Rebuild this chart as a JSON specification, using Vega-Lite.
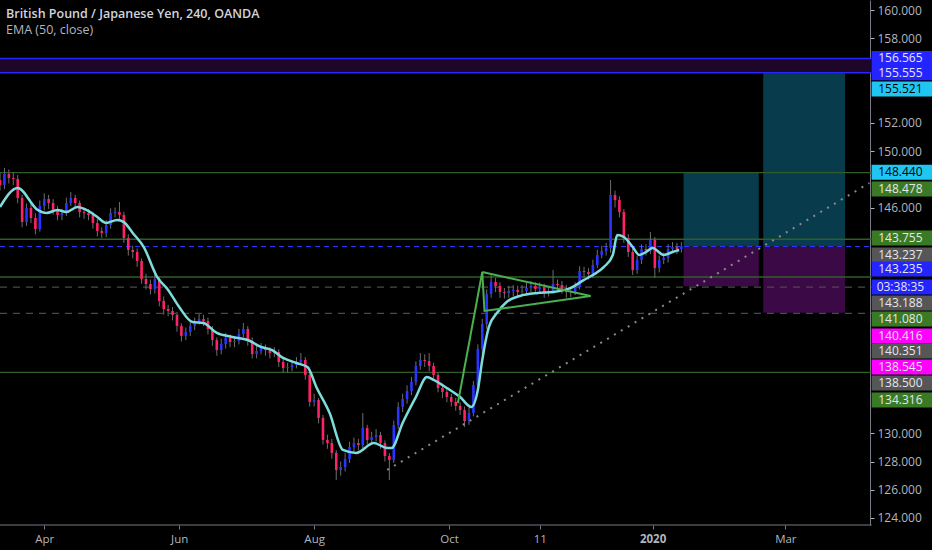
{
  "$schema": "https://vega.github.io/schema/vega-lite/v6.json",
  "width": 932,
  "height": 525,
  "autosize": {"type": "none"},
  "padding": {"left": 0, "top": 0, "right": 0, "bottom": 25},
  "background": "#000000",
  "config": {"view": {"stroke": null}, "font": "Open Sans"},
  "resolve": {"scale": {"color": "independent", "strokeDash": "independent", "size": "independent"}},
  "title": {
    "text": "British Pound / Japanese Yen, 240, OANDA",
    "subtitle": "EMA (50, close)",
    "anchor": "start",
    "frame": "group",
    "offset": -36,
    "dx": 6,
    "font": "Open Sans",
    "fontSize": 12.5,
    "fontWeight": 600,
    "color": "#d1d4dc",
    "subtitleFont": "Open Sans",
    "subtitleFontSize": 12.5,
    "subtitleColor": "#b2b5be",
    "subtitlePadding": 3
  },
  "datasets": {
    "candles": [
      {"t":"2019-03-12","o":147.95,"h":148.45,"l":147.20,"c":147.60},
      {"t":"2019-03-14","o":147.60,"h":148.80,"l":147.30,"c":148.38},
      {"t":"2019-03-16","o":148.38,"h":148.70,"l":147.70,"c":148.09},
      {"t":"2019-03-18","o":148.09,"h":148.50,"l":147.60,"c":148.02},
      {"t":"2019-03-20","o":148.02,"h":148.30,"l":146.30,"c":146.68},
      {"t":"2019-03-22","o":146.68,"h":146.90,"l":144.60,"c":144.98},
      {"t":"2019-03-24","o":144.98,"h":146.30,"l":144.70,"c":145.97},
      {"t":"2019-03-26","o":145.97,"h":146.30,"l":144.90,"c":145.26},
      {"t":"2019-03-28","o":145.26,"h":145.60,"l":144.10,"c":144.48},
      {"t":"2019-03-30","o":144.48,"h":146.50,"l":144.30,"c":146.11},
      {"t":"2019-04-01","o":146.11,"h":147.00,"l":145.80,"c":146.61},
      {"t":"2019-04-03","o":146.61,"h":146.90,"l":145.90,"c":146.32},
      {"t":"2019-04-05","o":146.32,"h":146.60,"l":145.50,"c":145.83},
      {"t":"2019-04-07","o":145.83,"h":146.10,"l":145.10,"c":145.47},
      {"t":"2019-04-09","o":145.47,"h":145.90,"l":145.10,"c":145.61},
      {"t":"2019-04-11","o":145.61,"h":146.70,"l":145.40,"c":146.32},
      {"t":"2019-04-13","o":146.32,"h":147.10,"l":146.10,"c":146.68},
      {"t":"2019-04-15","o":146.68,"h":146.90,"l":146.00,"c":146.32},
      {"t":"2019-04-17","o":146.32,"h":146.50,"l":145.30,"c":145.68},
      {"t":"2019-04-19","o":145.68,"h":146.00,"l":145.20,"c":145.60},
      {"t":"2019-04-21","o":145.60,"h":145.90,"l":145.10,"c":145.47},
      {"t":"2019-04-23","o":145.47,"h":145.70,"l":144.50,"c":144.90},
      {"t":"2019-04-25","o":144.90,"h":145.20,"l":143.95,"c":144.34},
      {"t":"2019-04-27","o":144.34,"h":144.60,"l":143.85,"c":144.20},
      {"t":"2019-04-29","o":144.20,"h":145.10,"l":143.90,"c":144.76},
      {"t":"2019-05-01","o":144.76,"h":145.95,"l":144.50,"c":145.61},
      {"t":"2019-05-03","o":145.61,"h":146.00,"l":145.30,"c":145.68},
      {"t":"2019-05-05","o":145.68,"h":146.39,"l":145.10,"c":145.47},
      {"t":"2019-05-07","o":145.47,"h":145.70,"l":143.50,"c":143.84},
      {"t":"2019-05-09","o":143.84,"h":144.10,"l":142.60,"c":142.99},
      {"t":"2019-05-11","o":142.99,"h":143.30,"l":142.40,"c":142.85},
      {"t":"2019-05-13","o":142.85,"h":143.10,"l":141.80,"c":142.21},
      {"t":"2019-05-15","o":142.21,"h":142.40,"l":140.60,"c":140.94},
      {"t":"2019-05-17","o":140.94,"h":141.30,"l":140.20,"c":140.58},
      {"t":"2019-05-19","o":140.58,"h":140.90,"l":139.85,"c":140.22},
      {"t":"2019-05-21","o":140.22,"h":141.57,"l":139.90,"c":140.94},
      {"t":"2019-05-23","o":140.94,"h":141.10,"l":139.00,"c":139.38},
      {"t":"2019-05-25","o":139.38,"h":139.70,"l":138.40,"c":138.81},
      {"t":"2019-05-27","o":138.81,"h":139.10,"l":138.30,"c":138.67},
      {"t":"2019-05-29","o":138.67,"h":138.95,"l":138.00,"c":138.39},
      {"t":"2019-05-31","o":138.39,"h":138.60,"l":137.20,"c":137.61},
      {"t":"2019-06-02","o":137.61,"h":137.80,"l":136.50,"c":136.90},
      {"t":"2019-06-04","o":136.90,"h":137.50,"l":136.60,"c":137.18},
      {"t":"2019-06-06","o":137.18,"h":137.90,"l":136.90,"c":137.61},
      {"t":"2019-06-08","o":137.61,"h":138.20,"l":137.30,"c":137.89},
      {"t":"2019-06-10","o":137.89,"h":138.45,"l":137.70,"c":138.10},
      {"t":"2019-06-12","o":138.10,"h":138.40,"l":137.60,"c":137.96},
      {"t":"2019-06-14","o":137.96,"h":138.20,"l":137.00,"c":137.39},
      {"t":"2019-06-16","o":137.39,"h":137.60,"l":136.20,"c":136.61},
      {"t":"2019-06-18","o":136.61,"h":136.80,"l":135.50,"c":135.90},
      {"t":"2019-06-20","o":135.90,"h":136.70,"l":135.60,"c":136.33},
      {"t":"2019-06-22","o":136.33,"h":137.10,"l":136.00,"c":136.75},
      {"t":"2019-06-24","o":136.75,"h":137.00,"l":136.10,"c":136.47},
      {"t":"2019-06-26","o":136.47,"h":136.90,"l":136.10,"c":136.54},
      {"t":"2019-06-28","o":136.54,"h":137.40,"l":136.30,"c":137.04},
      {"t":"2019-06-30","o":137.04,"h":137.82,"l":136.80,"c":137.39},
      {"t":"2019-07-02","o":137.39,"h":137.60,"l":136.20,"c":136.54},
      {"t":"2019-07-04","o":136.54,"h":136.80,"l":135.30,"c":135.62},
      {"t":"2019-07-06","o":135.62,"h":136.20,"l":135.30,"c":135.83},
      {"t":"2019-07-08","o":135.83,"h":136.40,"l":135.60,"c":136.05},
      {"t":"2019-07-10","o":136.05,"h":136.30,"l":135.50,"c":135.90},
      {"t":"2019-07-12","o":135.90,"h":136.10,"l":135.30,"c":135.69},
      {"t":"2019-07-14","o":135.69,"h":136.10,"l":135.40,"c":135.76},
      {"t":"2019-07-16","o":135.76,"h":135.95,"l":134.70,"c":135.05},
      {"t":"2019-07-18","o":135.05,"h":135.30,"l":134.30,"c":134.63},
      {"t":"2019-07-20","o":134.63,"h":135.00,"l":134.30,"c":134.70},
      {"t":"2019-07-22","o":134.70,"h":135.20,"l":134.40,"c":134.84},
      {"t":"2019-07-24","o":134.84,"h":135.40,"l":134.60,"c":135.05},
      {"t":"2019-07-26","o":135.05,"h":135.69,"l":134.80,"c":135.20},
      {"t":"2019-07-28","o":135.20,"h":135.40,"l":133.80,"c":134.13},
      {"t":"2019-07-30","o":134.13,"h":134.30,"l":131.90,"c":132.22},
      {"t":"2019-08-01","o":132.22,"h":132.80,"l":131.90,"c":132.36},
      {"t":"2019-08-03","o":132.36,"h":132.50,"l":130.70,"c":131.09},
      {"t":"2019-08-05","o":131.09,"h":131.30,"l":129.20,"c":129.53},
      {"t":"2019-08-07","o":129.53,"h":129.90,"l":128.90,"c":129.31},
      {"t":"2019-08-09","o":129.31,"h":129.60,"l":128.20,"c":128.61},
      {"t":"2019-08-11","o":128.61,"h":128.80,"l":126.69,"c":127.40},
      {"t":"2019-08-13","o":127.40,"h":128.00,"l":127.00,"c":127.61},
      {"t":"2019-08-15","o":127.61,"h":128.60,"l":127.30,"c":128.18},
      {"t":"2019-08-17","o":128.18,"h":129.40,"l":127.90,"c":129.03},
      {"t":"2019-08-19","o":129.03,"h":129.70,"l":128.70,"c":129.31},
      {"t":"2019-08-21","o":129.31,"h":129.60,"l":128.80,"c":129.17},
      {"t":"2019-08-23","o":129.17,"h":131.43,"l":128.90,"c":130.38},
      {"t":"2019-08-25","o":130.38,"h":130.60,"l":129.20,"c":129.53},
      {"t":"2019-08-27","o":129.53,"h":130.10,"l":129.20,"c":129.74},
      {"t":"2019-08-29","o":129.74,"h":130.30,"l":129.40,"c":129.88},
      {"t":"2019-08-31","o":129.88,"h":130.10,"l":128.90,"c":129.31},
      {"t":"2019-09-02","o":129.31,"h":129.50,"l":128.00,"c":128.39},
      {"t":"2019-09-04","o":128.39,"h":128.60,"l":126.69,"c":128.11},
      {"t":"2019-09-06","o":128.11,"h":130.90,"l":127.90,"c":130.59},
      {"t":"2019-09-08","o":130.59,"h":132.20,"l":130.30,"c":131.87},
      {"t":"2019-09-10","o":131.87,"h":132.80,"l":131.50,"c":132.43},
      {"t":"2019-09-12","o":132.43,"h":133.40,"l":132.10,"c":133.00},
      {"t":"2019-09-14","o":133.00,"h":134.00,"l":132.70,"c":133.64},
      {"t":"2019-09-16","o":133.64,"h":135.10,"l":133.40,"c":134.77},
      {"t":"2019-09-18","o":134.77,"h":135.69,"l":134.50,"c":135.20},
      {"t":"2019-09-20","o":135.20,"h":135.60,"l":134.70,"c":135.12},
      {"t":"2019-09-22","o":135.12,"h":135.69,"l":134.40,"c":134.77},
      {"t":"2019-09-24","o":134.77,"h":135.00,"l":133.80,"c":134.13},
      {"t":"2019-09-26","o":134.13,"h":134.30,"l":132.90,"c":133.21},
      {"t":"2019-09-28","o":133.21,"h":133.50,"l":132.50,"c":132.93},
      {"t":"2019-09-30","o":132.93,"h":133.20,"l":132.20,"c":132.57},
      {"t":"2019-10-02","o":132.57,"h":132.80,"l":131.90,"c":132.22},
      {"t":"2019-10-04","o":132.22,"h":132.50,"l":131.60,"c":131.94},
      {"t":"2019-10-06","o":131.94,"h":132.20,"l":131.30,"c":131.65},
      {"t":"2019-10-08","o":131.65,"h":131.90,"l":130.45,"c":130.87},
      {"t":"2019-10-10","o":130.87,"h":131.80,"l":130.60,"c":131.44},
      {"t":"2019-10-12","o":131.44,"h":133.70,"l":131.20,"c":133.42},
      {"t":"2019-10-14","o":133.42,"h":136.30,"l":133.10,"c":135.98},
      {"t":"2019-10-16","o":135.98,"h":138.10,"l":135.60,"c":137.75},
      {"t":"2019-10-18","o":137.75,"h":140.20,"l":137.40,"c":139.87},
      {"t":"2019-10-20","o":139.87,"h":141.22,"l":139.60,"c":140.72},
      {"t":"2019-10-22","o":140.72,"h":141.00,"l":140.00,"c":140.44},
      {"t":"2019-10-24","o":140.44,"h":140.70,"l":139.60,"c":140.01},
      {"t":"2019-10-26","o":140.01,"h":140.30,"l":139.55,"c":139.94},
      {"t":"2019-10-28","o":139.94,"h":140.45,"l":139.60,"c":140.09},
      {"t":"2019-10-30","o":140.09,"h":140.50,"l":139.70,"c":140.16},
      {"t":"2019-11-01","o":140.16,"h":140.45,"l":139.65,"c":140.01},
      {"t":"2019-11-03","o":140.01,"h":140.50,"l":139.70,"c":140.09},
      {"t":"2019-11-05","o":140.09,"h":140.65,"l":139.80,"c":140.30},
      {"t":"2019-11-07","o":140.30,"h":140.80,"l":140.00,"c":140.44},
      {"t":"2019-11-09","o":140.44,"h":140.70,"l":139.90,"c":140.23},
      {"t":"2019-11-11","o":140.23,"h":140.70,"l":139.90,"c":140.37},
      {"t":"2019-11-13","o":140.37,"h":140.60,"l":139.60,"c":140.01},
      {"t":"2019-11-15","o":140.01,"h":140.45,"l":139.70,"c":140.09},
      {"t":"2019-11-17","o":140.09,"h":141.57,"l":139.90,"c":140.58},
      {"t":"2019-11-19","o":140.58,"h":140.90,"l":140.10,"c":140.51},
      {"t":"2019-11-21","o":140.51,"h":140.80,"l":139.90,"c":140.23},
      {"t":"2019-11-23","o":140.23,"h":140.50,"l":139.60,"c":140.01},
      {"t":"2019-11-25","o":140.01,"h":140.40,"l":139.65,"c":140.05},
      {"t":"2019-11-27","o":140.05,"h":140.70,"l":139.80,"c":140.37},
      {"t":"2019-11-29","o":140.37,"h":141.85,"l":140.20,"c":141.50},
      {"t":"2019-12-01","o":141.50,"h":141.80,"l":141.00,"c":141.43},
      {"t":"2019-12-03","o":141.43,"h":141.70,"l":140.90,"c":141.29},
      {"t":"2019-12-05","o":141.29,"h":142.30,"l":141.00,"c":141.93},
      {"t":"2019-12-07","o":141.93,"h":143.00,"l":141.70,"c":142.64},
      {"t":"2019-12-09","o":142.64,"h":143.30,"l":142.40,"c":142.92},
      {"t":"2019-12-11","o":142.92,"h":143.50,"l":142.60,"c":143.13},
      {"t":"2019-12-13","o":143.13,"h":147.95,"l":142.80,"c":146.89},
      {"t":"2019-12-15","o":146.89,"h":147.20,"l":146.00,"c":146.53},
      {"t":"2019-12-17","o":146.53,"h":146.80,"l":145.30,"c":145.68},
      {"t":"2019-12-19","o":145.68,"h":145.90,"l":143.50,"c":143.84},
      {"t":"2019-12-21","o":143.84,"h":144.10,"l":142.50,"c":142.85},
      {"t":"2019-12-23","o":142.85,"h":143.10,"l":141.22,"c":141.57},
      {"t":"2019-12-25","o":141.57,"h":142.60,"l":141.30,"c":142.28},
      {"t":"2019-12-27","o":142.28,"h":143.40,"l":142.00,"c":143.06},
      {"t":"2019-12-29","o":143.06,"h":143.40,"l":142.60,"c":142.95},
      {"t":"2019-12-31","o":142.95,"h":144.27,"l":142.70,"c":143.70},
      {"t":"2020-01-02","o":143.70,"h":143.90,"l":141.01,"c":141.72},
      {"t":"2020-01-04","o":141.72,"h":142.60,"l":141.40,"c":142.28},
      {"t":"2020-01-06","o":142.28,"h":142.80,"l":142.00,"c":142.42},
      {"t":"2020-01-08","o":142.42,"h":143.40,"l":142.10,"c":143.06},
      {"t":"2020-01-10","o":143.06,"h":143.55,"l":142.80,"c":143.20},
      {"t":"2020-01-12","o":143.20,"h":143.50,"l":142.70,"c":143.06},
      {"t":"2020-01-14","o":143.06,"h":143.55,"l":142.80,"c":143.24}
    ],
    "ema": [
      {"t":"2019-03-12","v":146.04},{"t":"2019-03-20","v":147.39},{"t":"2019-03-29","v":145.83},
      {"t":"2019-04-02","v":145.61},{"t":"2019-04-07","v":145.83},{"t":"2019-04-11","v":145.68},
      {"t":"2019-04-16","v":146.04},{"t":"2019-04-20","v":145.83},{"t":"2019-04-25","v":145.33},
      {"t":"2019-04-29","v":144.91},{"t":"2019-05-04","v":145.12},{"t":"2019-05-07","v":144.97},
      {"t":"2019-05-11","v":144.20},{"t":"2019-05-16","v":143.20},{"t":"2019-05-22","v":141.08},
      {"t":"2019-05-27","v":140.16},{"t":"2019-06-01","v":138.95},{"t":"2019-06-07","v":137.89},
      {"t":"2019-06-12","v":137.82},{"t":"2019-06-18","v":137.11},{"t":"2019-06-25","v":136.83},
      {"t":"2019-07-02","v":136.61},{"t":"2019-07-08","v":136.12},{"t":"2019-07-13","v":135.90},
      {"t":"2019-07-18","v":135.34},{"t":"2019-07-24","v":134.98},{"t":"2019-07-29","v":134.70},
      {"t":"2019-08-02","v":133.28},{"t":"2019-08-08","v":131.44},{"t":"2019-08-14","v":128.82},
      {"t":"2019-08-20","v":128.61},{"t":"2019-08-28","v":129.31},{"t":"2019-09-03","v":128.96},
      {"t":"2019-09-05","v":128.96},{"t":"2019-09-10","v":130.73},{"t":"2019-09-16","v":132.57},
      {"t":"2019-09-21","v":133.99},{"t":"2019-09-24","v":133.78},{"t":"2019-09-30","v":133.21},
      {"t":"2019-10-06","v":132.57},{"t":"2019-10-11","v":131.87},{"t":"2019-10-14","v":133.07},
      {"t":"2019-10-16","v":135.20},{"t":"2019-10-19","v":137.54},{"t":"2019-10-23","v":138.60},
      {"t":"2019-10-27","v":139.31},{"t":"2019-11-02","v":139.73},{"t":"2019-11-10","v":139.94},
      {"t":"2019-11-17","v":140.01},{"t":"2019-11-25","v":140.30},{"t":"2019-12-01","v":140.87},
      {"t":"2019-12-05","v":141.22},{"t":"2019-12-10","v":141.79},{"t":"2019-12-14","v":142.64},
      {"t":"2019-12-16","v":144.05},{"t":"2019-12-19","v":143.91},{"t":"2019-12-23","v":143.20},
      {"t":"2019-12-26","v":142.64},{"t":"2019-12-29","v":142.85},{"t":"2020-01-01","v":143.13},
      {"t":"2020-01-06","v":142.64},{"t":"2020-01-10","v":142.85},{"t":"2020-01-13","v":142.99}
    ],
    "zones": [
      {"t0":"2019-03-12","t1":"2020-04-09","lo":155.555,"hi":156.565,"kind":"band"},
      {"t0":"2020-01-15","t1":"2020-02-18","lo":143.237,"hi":148.440,"kind":"target"},
      {"t0":"2020-01-15","t1":"2020-02-18","lo":140.416,"hi":143.237,"kind":"stop"},
      {"t0":"2020-02-20","t1":"2020-03-28","lo":143.237,"hi":155.521,"kind":"target"},
      {"t0":"2020-02-20","t1":"2020-03-28","lo":138.545,"hi":143.237,"kind":"stop"}
    ],
    "levels": [
      {"p":156.565,"kind":"blue"},
      {"p":155.555,"kind":"blue"},
      {"p":148.478,"kind":"green"},
      {"p":143.755,"kind":"green"},
      {"p":141.080,"kind":"green"},
      {"p":134.316,"kind":"green"},
      {"p":140.351,"kind":"gray"},
      {"p":138.500,"kind":"gray"},
      {"p":143.235,"kind":"price"},
      {"p":123.5,"kind":"axis"}
    ],
    "trend": [
      {"t":"2019-09-03","p":127.40},
      {"t":"2020-04-08","p":147.74}
    ],
    "shapes": [
      {"seg":"pole","k":0,"t":"2019-10-05","p":132.15},
      {"seg":"pole","k":1,"t":"2019-10-16","p":141.43},
      {"seg":"tri","k":0,"t":"2019-10-16","p":141.43},
      {"seg":"tri","k":1,"t":"2019-12-04","p":139.73},
      {"seg":"tri","k":2,"t":"2019-10-17","p":138.67},
      {"seg":"tri","k":3,"t":"2019-10-16","p":141.43}
    ],
    "tags": [
      {"label":"156.565","lv":156.565,"kind":"blue"},
      {"label":"155.555","lv":155.555,"kind":"blue"},
      {"label":"155.521","lv":154.40,"kind":"cyan"},
      {"label":"148.440","lv":148.50,"kind":"cyan"},
      {"label":"148.478","lv":147.31,"kind":"green"},
      {"label":"143.755","lv":143.84,"kind":"green"},
      {"label":"143.237","lv":142.64,"kind":"gray"},
      {"label":"143.235","lv":141.64,"kind":"blue"},
      {"label":"03:38:35","lv":140.37,"kind":"blue"},
      {"label":"143.188","lv":139.23,"kind":"gray"},
      {"label":"141.080","lv":138.10,"kind":"green"},
      {"label":"140.416","lv":136.90,"kind":"magenta"},
      {"label":"140.351","lv":135.83,"kind":"gray"},
      {"label":"138.545","lv":134.70,"kind":"magenta"},
      {"label":"138.500","lv":133.57,"kind":"gray"},
      {"label":"134.316","lv":132.36,"kind":"green"}
    ]
  },
  "encoding": {
    "x": {
      "type": "temporal",
      "scale": {"domain": [{"year":2019,"month":3,"date":12}, {"year":2020,"month":5,"date":6,"hours":7}], "padding": 0},
      "axis": {
        "title": null,
        "domain": false,
        "grid": false,
        "values": [
          {"year":2019,"month":4,"date":1},
          {"year":2019,"month":6,"date":1},
          {"year":2019,"month":8,"date":1},
          {"year":2019,"month":10,"date":1},
          {"year":2019,"month":11,"date":11},
          {"year":2020,"month":1,"date":1},
          {"year":2020,"month":3,"date":1}
        ],
        "labelExpr": "month(datum.value) == 0 && date(datum.value) == 1 ? timeFormat(datum.value, '%Y') : (date(datum.value) == 11 ? '11' : timeFormat(datum.value, '%b'))",
        "labelFontWeight": {"condition": {"test": "month(datum.value) == 0 && date(datum.value) == 1", "value": "bold"}, "value": "normal"},
        "labelColor": "#b2b5be",
        "labelFont": "Open Sans",
        "labelFontSize": 11.5,
        "labelPadding": 4,
        "tickColor": "#787b86",
        "tickSize": 4,
        "labelFlush": false
      }
    },
    "y": {
      "type": "quantitative",
      "scale": {"domain": [123.5, 160.71], "nice": false, "zero": false},
      "axis": {
        "orient": "right",
        "offset": -62,
        "title": null,
        "grid": false,
        "values": [124,126,128,130,146,150,152,158,160],
        "format": ".3f",
        "labelColor": "#b2b5be",
        "labelFont": "Open Sans",
        "labelFontSize": 12,
        "labelPadding": 3,
        "tickSize": 4,
        "tickColor": "#b2b5be",
        "domainColor": "#787b86"
      }
    }
  },
  "layer": [
    {
      "data": {"name": "zones"},
      "mark": {"type": "rect"},
      "encoding": {
        "x": {"field": "t0"},
        "x2": {"field": "t1"},
        "y": {"field": "lo"},
        "y2": {"field": "hi"},
        "color": {"field": "kind", "type": "nominal", "legend": null,
          "scale": {"domain": ["band","target","stop"], "range": ["#1e0628","#083b4b","#3b0a46"]}}
      }
    },
    {
      "data": {"name": "levels"},
      "mark": {"type": "rule"},
      "encoding": {
        "x": {"datum": {"year":2019,"month":3,"date":12}},
        "x2": {"datum": {"year":2020,"month":4,"date":9}},
        "y": {"field": "p"},
        "color": {"field": "kind", "type": "nominal", "legend": null,
          "scale": {"domain": ["blue","green","gray","price","axis"], "range": ["#2626ff","#2f5f26","#4a4a4a","#2b36ff","#787b86"]}},
        "strokeDash": {"field": "kind", "type": "nominal", "legend": null,
          "scale": {"domain": ["blue","green","gray","price","axis"], "range": [[1,0],[1,0],[7,6],[5,4],[1,0]]}},
        "size": {"field": "kind", "type": "nominal", "legend": null,
          "scale": {"domain": ["blue","green","gray","price","axis"], "range": [1.5,1,1,2,1]}}
      }
    },
    {
      "data": {"name": "candles"},
      "mark": {"type": "rule", "strokeWidth": 1, "color": "#6e6e6e"},
      "encoding": {
        "x": {"field": "t"},
        "y": {"field": "l"},
        "y2": {"field": "h"}
      }
    },
    {
      "data": {"name": "candles"},
      "mark": {"type": "bar", "width": 2.6},
      "encoding": {
        "x": {"field": "t"},
        "y": {"field": "o"},
        "y2": {"field": "c"},
        "color": {"condition": {"test": "datum.c >= datum.o", "value": "#2b34ff"}, "value": "#ff2266"}
      }
    },
    {
      "data": {"name": "ema"},
      "mark": {"type": "line", "color": "#7edcdc", "strokeWidth": 2.5, "interpolate": "monotone"},
      "encoding": {
        "x": {"field": "t"},
        "y": {"field": "v"}
      }
    },
    {
      "data": {"name": "trend"},
      "mark": {"type": "line", "color": "#8a8a8a", "strokeWidth": 2, "strokeDash": [2, 6]},
      "encoding": {
        "x": {"field": "t"},
        "y": {"field": "p"}
      }
    },
    {
      "data": {"name": "shapes"},
      "mark": {"type": "line", "color": "#4caf50", "strokeWidth": 2},
      "encoding": {
        "x": {"field": "t"},
        "y": {"field": "p"},
        "detail": {"field": "seg"},
        "order": {"field": "k", "type": "quantitative"}
      }
    },
    {
      "data": {"name": "tags"},
      "mark": {"type": "rect", "height": 15},
      "encoding": {
        "x": {"datum": {"year":2020,"month":4,"date":9}},
        "x2": {"datum": {"year":2020,"month":5,"date":7}},
        "y": {"field": "lv"},
        "color": {"field": "kind", "type": "nominal", "legend": null,
          "scale": {"domain": ["blue","cyan","green","gray","magenta"], "range": ["#2424ff","#1fc6f2","#3a7a24","#565656","#ff00ff"]}}
      }
    },
    {
      "data": {"name": "tags"},
      "mark": {"type": "text", "align": "center", "baseline": "middle", "font": "Open Sans", "fontSize": 12},
      "encoding": {
        "x": {"datum": {"year":2020,"month":4,"date":22}},
        "y": {"field": "lv"},
        "text": {"field": "label"},
        "color": {"condition": {"test": "datum.kind == 'cyan'", "value": "#000000"}, "value": "#e6e6ee"}
      }
    }
  ]
}
